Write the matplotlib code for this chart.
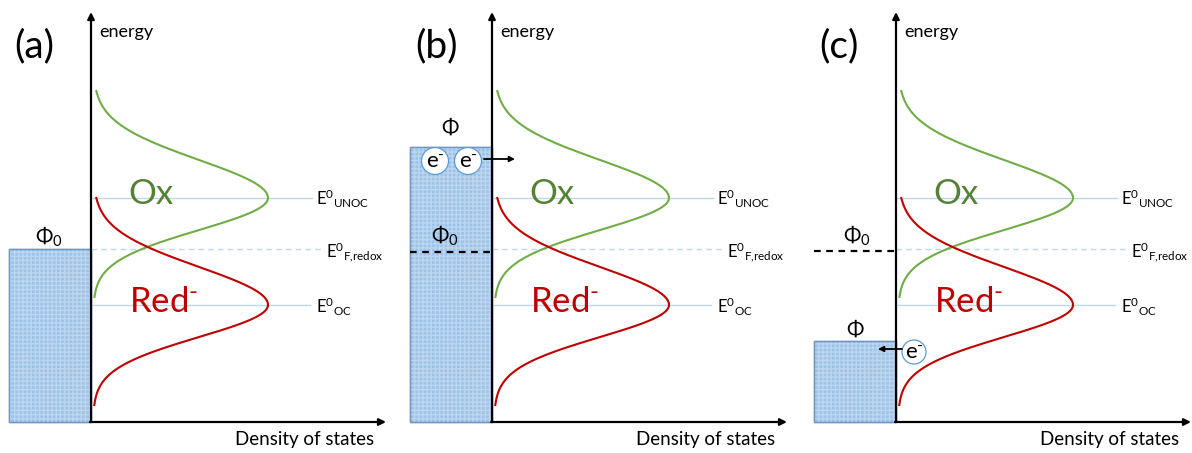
import numpy as np
import matplotlib.pyplot as plt
from matplotlib.patches import Rectangle, Circle

plt.rcParams['font.family'] = ['Lato', 'DejaVu Sans']
plt.rcParams['mathtext.fontset'] = 'custom'
plt.rcParams['mathtext.rm'] = 'Lato'
plt.rcParams['mathtext.it'] = 'Lato:italic'
plt.rcParams['mathtext.fallback'] = 'stixsans'

# energy levels (arbitrary units, F,redox = 0)
E_unoc = 0.51
E_redox = 0.0
E_oc = -0.56

# density of states peak height and half widths (upper / lower side)
dos_peak = 1.75
sig_up = 0.38
sig_down = 0.32

# electrode work function (top of the filled box) per panel
panel_labels = ['(a)', '(b)', '(c)']
phi_top = [0.0, 1.02, -0.92]
phi0 = 0.0
box_bottom = -1.73

green_line = '#70ad47'
green_text = '#548235'
red = '#c00000'
level_col = '#bdd7ee'
circle_edge = '#5b9bd5'


def dos(e, center):
    sig = np.where(e > center, sig_up, sig_down)
    return dos_peak * np.exp(-(e - center) ** 2 / (2 * sig ** 2))


fig = plt.figure(figsize=(11.92, 4.53), dpi=100)
axis_px = [91, 492, 896]
minus = '$^{\\mathregular{\\text{-}}}$'

for k in range(3):
    ax = fig.add_axes([(axis_px[k] - 90) / 1192, 0, 390 / 1192, 1])
    ax.set_xlim(-0.9, 3.0)
    ax.set_ylim(-2.04, 2.49)
    ax.axis('off')

    # electrode box
    top = phi_top[k]
    ax.add_patch(Rectangle((-0.82, box_bottom), 0.82, top - box_bottom,
                           facecolor='#9ec3e8', edgecolor='#7096c4', lw=1.0, zorder=1))
    ax.add_patch(Rectangle((-0.82, box_bottom), 0.82, top - box_bottom,
                           fill=False, hatch='++++', edgecolor='#bcd6f0', lw=0, zorder=1))
    ax.add_patch(Rectangle((-0.82, box_bottom), 0.82, top - box_bottom,
                           fill=False, edgecolor='#7096c4', lw=1.0, zorder=1))

    # level lines
    ax.plot([0, 2.21], [E_unoc, E_unoc], color=level_col, lw=1.0, zorder=2)
    ax.plot([0, 2.19], [E_oc, E_oc], color=level_col, lw=1.0, zorder=2)
    ax.plot([0, 2.3], [E_redox, E_redox], color=level_col, lw=1.0, ls=(0, (4, 3)), zorder=2)

    # DOS curves
    e_ox = np.linspace(E_unoc - 0.99, E_unoc + 1.07, 300)
    e_red = np.linspace(E_oc - 1.0, E_oc + 1.07, 300)
    ax.plot(dos(e_ox, E_unoc) + 0.02, e_ox, color=green_line, lw=1.5, zorder=3)
    ax.plot(dos(e_red, E_oc) + 0.02, e_red, color=red, lw=1.5, zorder=3)

    ax.text(0.37, E_unoc + 0.04, 'Ox', color=green_text, fontsize=25, va='center', ha='left')
    ax.text(0.38, E_oc + 0.03, 'Red' + minus, color=red, fontsize=25,
            va='center', ha='left')

    ax.text(2.25, E_unoc - 0.01, '$\\mathregular{E^{0}{}_{UNOC}}$', fontsize=12, va='center')
    ax.text(2.35, E_redox - 0.03, '$\\mathregular{E^{0}{}_{F{,}redox}}$', fontsize=12, va='center')
    ax.text(2.25, E_oc - 0.02, '$\\mathregular{E^{0}{}_{OC}}$', fontsize=12, va='center')

    # axes arrows
    ax.annotate('', xy=(0, 2.37), xytext=(0, box_bottom),
                arrowprops=dict(arrowstyle='-|>', color='black', lw=1.6, mutation_scale=10,
                                shrinkA=0, shrinkB=0), zorder=4)
    ax.annotate('', xy=(2.95, box_bottom), xytext=(-0.01, box_bottom),
                arrowprops=dict(arrowstyle='-|>', color='black', lw=1.6, mutation_scale=10,
                                shrinkA=0, shrinkB=0), zorder=4)
    ax.text(0.08, 2.17, 'energy', fontsize=13, va='center', ha='left')
    ax.text(2.14, -1.91, 'Density of states', fontsize=13.5, va='center', ha='center')
    ax.text(-0.77, 2.03, panel_labels[k], fontsize=28, va='center', ha='left')

    # work function labels
    if k == 0:
        ax.text(-0.42, phi0 + 0.12, '$\\mathregular{\u03a6_0}$', fontsize=15, ha='center', va='center')
    elif k == 1:
        ax.text(-0.42, top + 0.19, '\u03a6', fontsize=15, ha='center', va='center')
        ax.text(-0.47, phi0 + 0.13, '$\\mathregular{\u03a6_0}$', fontsize=15, ha='center', va='center')
        ax.plot([-0.82, 0], [phi0 - 0.03, phi0 - 0.03], color='black', lw=1.6,
                ls=(0, (3, 2.5)), zorder=3)
        for xc in [-0.57, -0.24]:
            ax.add_patch(Circle((xc, top - 0.14), 0.135, facecolor='white', edgecolor=circle_edge,
                                lw=0.9, zorder=4))
            ax.text(xc, top - 0.15, 'e' + minus, fontsize=16, ha='center',
                    va='center', zorder=5)
        ax.annotate('', xy=(0.23, top - 0.12), xytext=(-0.08, top - 0.12),
                    arrowprops=dict(arrowstyle='-|>', color='black', lw=1.3, mutation_scale=8,
                                    shrinkA=0, shrinkB=0), zorder=5)
    else:
        ax.text(-0.39, phi0 + 0.13, '$\\mathregular{\u03a6_0}$', fontsize=15, ha='center', va='center')
        ax.plot([-0.82, 0], [phi0 - 0.02, phi0 - 0.02], color='black', lw=1.6,
                ls=(0, (3, 2.5)), zorder=3)
        ax.text(-0.41, top + 0.11, '\u03a6', fontsize=15, ha='center', va='center')
        ax.add_patch(Circle((0.18, top - 0.11), 0.12, facecolor='white', edgecolor=circle_edge,
                            lw=0.9, zorder=4))
        ax.text(0.18, top - 0.12, 'e' + minus, fontsize=16, ha='center',
                va='center', zorder=5)
        ax.annotate('', xy=(-0.18, top - 0.08), xytext=(0.06, top - 0.08),
                    arrowprops=dict(arrowstyle='-|>', color='black', lw=1.3, mutation_scale=8,
                                    shrinkA=0, shrinkB=0), zorder=5)

fig.savefig('out.png', dpi=100, facecolor='white')
